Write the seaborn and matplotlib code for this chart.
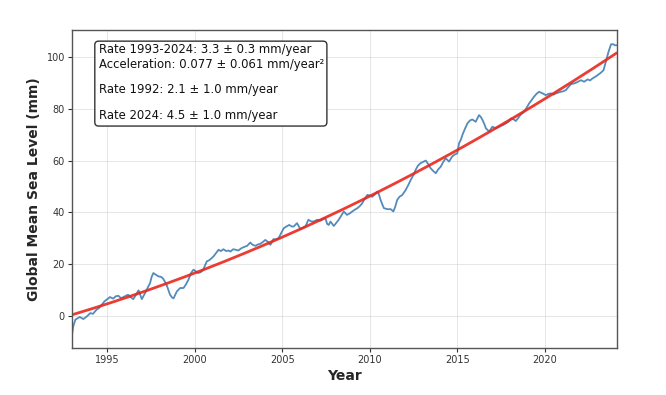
import numpy as np
import pandas as pd
import matplotlib
matplotlib.use("Agg")
import matplotlib.pyplot as plt
from matplotlib.patches import FancyBboxPatch
import seaborn as sns

years = [
    1993.00, 1993.08, 1993.20, 1993.45, 1993.65, 1993.85, 1994.05, 1994.20, 1994.40, 1994.55,
    1994.70, 1994.85, 1994.98, 1995.17, 1995.36, 1995.50, 1995.65, 1995.80, 1995.94, 1996.10,
    1996.20, 1996.35, 1996.50, 1996.65, 1996.80, 1996.90, 1996.99, 1997.18, 1997.30, 1997.46,
    1997.55, 1997.65, 1997.80, 1997.94, 1998.10, 1998.22, 1998.40, 1998.50, 1998.60, 1998.72,
    1998.80, 1998.99, 1999.18, 1999.37, 1999.50, 1999.65, 1999.80, 1999.94, 2000.10, 2000.20,
    2000.35, 2000.50, 2000.60, 2000.70, 2000.85, 2001.08, 2001.20, 2001.37, 2001.50, 2001.65,
    2001.80, 2001.94, 2002.05, 2002.20, 2002.35, 2002.50, 2002.65, 2002.80, 2003.00, 2003.18,
    2003.30, 2003.47, 2003.60, 2003.75, 2003.90, 2004.04, 2004.20, 2004.33, 2004.50, 2004.65,
    2004.80, 2004.95, 2005.10, 2005.25, 2005.40, 2005.55, 2005.66, 2005.85, 2006.04, 2006.20,
    2006.33, 2006.50, 2006.65, 2006.80, 2007.00, 2007.20, 2007.35, 2007.47, 2007.57, 2007.66,
    2007.76, 2007.95, 2008.10, 2008.23, 2008.40, 2008.52, 2008.70, 2008.85, 2009.00, 2009.15,
    2009.30, 2009.45, 2009.57, 2009.70, 2009.86, 2010.00, 2010.15, 2010.30, 2010.43, 2010.52,
    2010.62, 2010.72, 2010.81, 2011.00, 2011.20, 2011.35, 2011.45, 2011.57, 2011.70, 2011.86,
    2012.05, 2012.20, 2012.34, 2012.50, 2012.62, 2012.75, 2012.90, 2013.05, 2013.20, 2013.35,
    2013.48, 2013.62, 2013.77, 2013.90, 2014.05, 2014.20, 2014.34, 2014.53, 2014.70, 2014.82,
    2015.00, 2015.10, 2015.20, 2015.29, 2015.45, 2015.58, 2015.72, 2015.86, 2016.05, 2016.24,
    2016.35, 2016.44, 2016.55, 2016.63, 2016.82, 2017.00, 2017.20, 2017.35, 2017.48, 2017.62,
    2017.77, 2017.92, 2018.06, 2018.20, 2018.34, 2018.48, 2018.60, 2018.75, 2018.90, 2019.10,
    2019.25, 2019.38, 2019.52, 2019.67, 2019.87, 2020.05, 2020.20, 2020.34, 2020.50, 2020.63,
    2020.77, 2020.90, 2021.05, 2021.20, 2021.35, 2021.50, 2021.65, 2021.77, 2021.92, 2022.06,
    2022.24, 2022.44, 2022.58, 2022.72, 2022.85, 2023.00, 2023.20, 2023.35, 2023.45, 2023.55,
    2023.65, 2023.78, 2023.90, 2024.00, 2024.10,
]
gmsl_mm = [
    -7.5, -4.0, -1.5, -0.5, -1.3, -0.3, 1.0, 0.7, 2.3, 3.0,
    4.2, 5.5, 6.2, 7.2, 6.6, 7.5, 7.7, 6.8, 7.2, 7.8,
    8.1, 7.2, 6.4, 8.0, 9.8, 8.0, 6.4, 8.8, 10.5, 12.6,
    15.0, 16.5, 15.8, 15.2, 15.0, 14.2, 12.0, 10.0, 8.1, 7.0,
    6.7, 9.4, 10.7, 10.7, 12.0, 13.9, 16.5, 17.8, 17.0, 16.5,
    16.8, 17.8, 19.5, 21.0, 21.5, 22.9, 24.0, 25.5, 25.0, 25.7,
    25.0, 25.2, 24.8, 25.7, 25.5, 25.2, 26.0, 26.5, 27.0, 28.3,
    27.5, 27.0, 27.5, 27.8, 28.5, 29.3, 28.5, 27.4, 29.6, 29.5,
    30.0, 32.0, 33.9, 34.5, 35.1, 34.5, 34.5, 35.8, 33.5, 34.0,
    34.5, 37.1, 36.5, 36.4, 37.1, 36.8, 37.4, 37.7, 35.5, 35.1,
    36.4, 34.7, 36.0, 37.1, 39.0, 40.3, 39.0, 39.5, 40.3, 41.0,
    41.6, 42.5, 43.5, 45.0, 46.7, 46.5, 46.0, 47.0, 48.0, 47.0,
    44.8, 43.0, 41.6, 41.2, 41.2, 40.3, 42.0, 44.8, 46.0, 46.7,
    48.6, 50.5, 52.5, 54.5, 56.4, 58.0, 59.0, 59.5, 60.0, 58.5,
    57.0, 56.0, 55.1, 56.5, 57.6, 59.5, 60.9, 59.6, 61.5, 62.2,
    62.8, 66.7, 68.0, 69.9, 72.5, 74.4, 75.5, 75.9, 75.0, 77.6,
    76.8, 75.7, 74.0, 72.5, 71.2, 73.1, 72.5, 73.0, 73.4, 73.8,
    74.4, 75.0, 76.3, 76.0, 75.3, 76.5, 77.6, 78.5, 79.8, 82.1,
    83.5, 84.7, 85.8, 86.6, 86.0, 85.3, 85.8, 86.0, 85.5, 86.0,
    86.3, 86.6, 86.8, 87.3, 88.5, 89.6, 89.8, 90.1, 90.6, 91.1,
    90.5, 91.4, 91.0, 91.8, 92.3, 93.0, 94.0, 95.0, 97.5, 100.0,
    102.5, 105.0, 105.0, 104.6, 104.6,
]

box_lines = [
    "Rate 1993-2024: 3.3 \u00b1 0.3 mm/year",
    "Acceleration: 0.077 \u00b1 0.061 mm/year\u00b2",
    "Rate 1992: 2.1 \u00b1 1.0 mm/year",
    "Rate 2024: 4.5 \u00b1 1.0 mm/year",
]
x_ticks = [1995, 2000, 2005, 2010, 2015, 2020]
y_ticks = [0, 20, 40, 60, 80, 100]

df = pd.DataFrame({"Year": years, "GMSL": gmsl_mm})
coef = np.polyfit(df["Year"] - 1993, df["GMSL"], 2)
df["Fit"] = np.polyval(coef, df["Year"] - 1993)

sns.set_style("white")
plt.rcParams["font.family"] = ["DejaVu Sans"]

fig = plt.figure(figsize=(6.66, 3.95), dpi=100)
ax = fig.add_axes([0.108, 0.119, 0.818, 0.805])

sns.lineplot(data=df, x="Year", y="GMSL", ax=ax, color="#3f7fb5", linewidth=1.3, alpha=0.9)
sns.lineplot(data=df, x="Year", y="Fit", ax=ax, color="#e8281e", linewidth=2.0, alpha=0.9)

ax.set_xlim(years[0], years[-1])
ax.set_ylim(-12.5, 110.5)
ax.set_xticks(x_ticks)
ax.set_yticks(y_ticks)
ax.grid(True, color="#cccccc", alpha=0.5, linewidth=0.7)
ax.tick_params(axis="both", labelsize=7, colors="#333333", length=3, width=0.8, direction="out",
               left=True, bottom=True, pad=2)
for s in ax.spines.values():
    s.set_color("#555555")
    s.set_linewidth(1.0)

ax.set_xlabel("Year", fontsize=10, fontweight="bold", labelpad=3)
ax.set_ylabel("Global Mean Sea Level (mm)", fontsize=10, fontweight="bold", labelpad=4)

# Annotation box
box = FancyBboxPatch((0.042, 0.698), 0.426, 0.267, transform=ax.transAxes,
                     boxstyle="round,pad=0,rounding_size=0.007", mutation_aspect=1.714,
                     facecolor="white", edgecolor="#333333", linewidth=1.0, zorder=5)
ax.add_patch(box)
for txt, yy in zip(box_lines, [0.940, 0.893, 0.814, 0.730]):
    ax.text(0.0495, yy, txt, transform=ax.transAxes, fontsize=8.4, va="center", ha="left",
            color="#111111", zorder=6)

fig.savefig("out.png", dpi=100)
